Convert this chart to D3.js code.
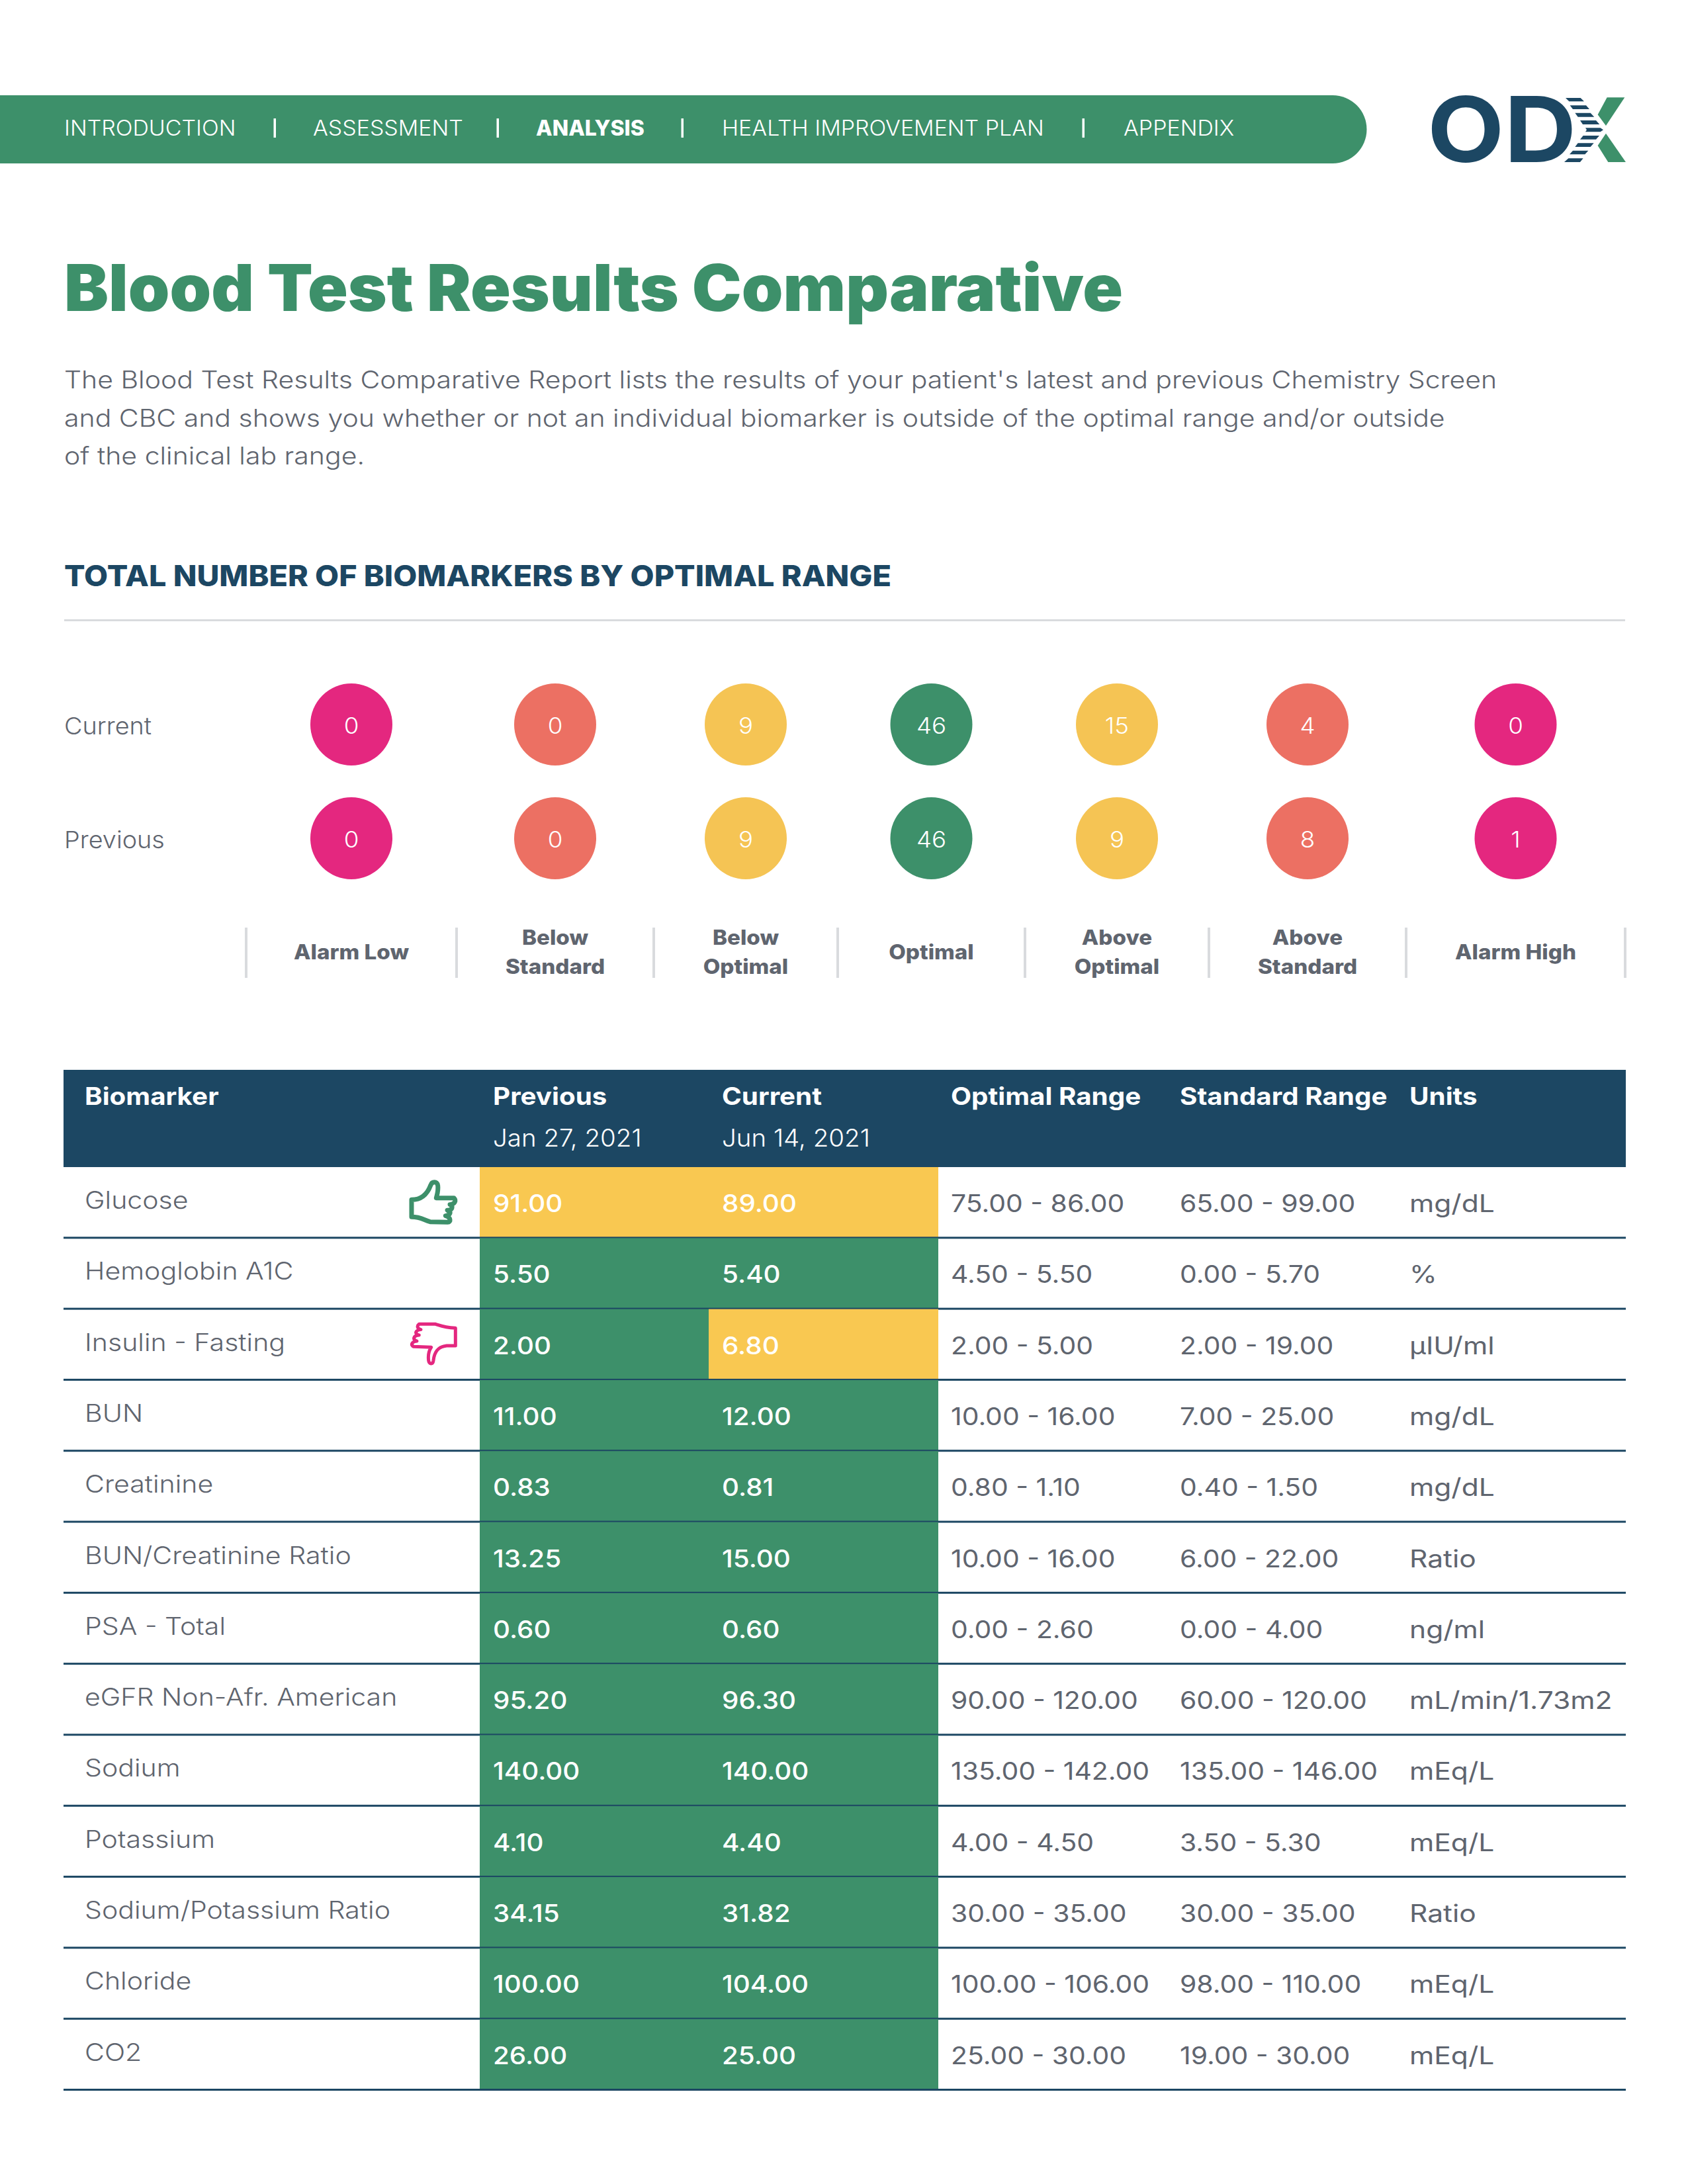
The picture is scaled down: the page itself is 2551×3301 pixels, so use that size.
<!DOCTYPE html>
<html>
<head>
<meta charset="utf-8">
<script src="https://cdn.jsdelivr.net/npm/d3@7"></script>
<style>
  html, body { margin: 0; padding: 0; background: #fff; }
  svg { display: block; }
  text { font-family: Inter, "Open Sans", sans-serif; }
</style>
</head>
<body>
<div id="chart"></div>
<script>
const navItems = ["INTRODUCTION", "ASSESSMENT", "ANALYSIS", "HEALTH IMPROVEMENT PLAN", "APPENDIX"];
const activeNav = "ANALYSIS";
const pageTitle = "Blood Test Results Comparative";
const introLines = [
  "The Blood Test Results Comparative Report lists the results of your patient's latest and previous Chemistry Screen",
  "and CBC and shows you whether or not an individual biomarker is outside of the optimal range and/or outside",
  "of the clinical lab range."
];
const sectionTitle = "TOTAL NUMBER OF BIOMARKERS BY OPTIMAL RANGE";

const rangeCategories = ["Alarm Low", "Below Standard", "Below Optimal", "Optimal", "Above Optimal", "Above Standard", "Alarm High"];
const currentCounts = [0, 0, 9, 46, 15, 4, 0];
const previousCounts = [0, 0, 9, 46, 9, 8, 1];

const tableHeaders = ["Biomarker", "Previous", "Current", "Optimal Range", "Standard Range", "Units"];
const tableDates = ["", "Jan 27, 2021", "Jun 14, 2021", "", "", ""];
const biomarkers = ["Glucose", "Hemoglobin A1C", "Insulin - Fasting", "BUN", "Creatinine", "BUN/Creatinine Ratio", "PSA - Total", "eGFR Non-Afr. American", "Sodium", "Potassium", "Sodium/Potassium Ratio", "Chloride", "CO2"];
const previousValues = [91, 5.5, 2, 11, 0.83, 13.25, 0.6, 95.2, 140, 4.1, 34.15, 100, 26];
const currentValues = [89, 5.4, 6.8, 12, 0.81, 15, 0.6, 96.3, 140, 4.4, 31.82, 104, 25];
const optimalLow = [75, 4.5, 2, 10, 0.8, 10, 0, 90, 135, 4, 30, 100, 25];
const optimalHigh = [86, 5.5, 5, 16, 1.1, 16, 2.6, 120, 142, 4.5, 35, 106, 30];
const standardLow = [65, 0, 2, 7, 0.4, 6, 0, 60, 135, 3.5, 30, 98, 19];
const standardHigh = [99, 5.7, 19, 25, 1.5, 22, 4, 120, 146, 5.3, 35, 110, 30];
const units = ["mg/dL", "%", "\u00b5IU/ml", "mg/dL", "mg/dL", "Ratio", "ng/ml", "mL/min/1.73m2", "mEq/L", "mEq/L", "Ratio", "mEq/L", "mEq/L"];
const thumbs = { "Glucose": "up", "Insulin - Fasting": "down" };

const GREEN = "#3d906a", NAVY = "#1c4763", YELLOW = "#f9c851", GREY = "#5f656f", RULE = "#d9dbde";

const width = 2551, height = 3301;
const svg = d3.select("#chart").append("svg").attr("width", width).attr("height", height);
const fmt = d3.format(".2f");

// no Gotham here, so Inter gets widened to the same text widths
const stretch = (sel, k) => sel.each(function () {
  this.setAttribute("textLength", this.getComputedTextLength() * k);
  this.setAttribute("lengthAdjust", "spacingAndGlyphs");
});

const addText = (g, x, y, str, size, weight, fill, k = 1, anchor = "start") =>
  g.append("text")
    .attr("x", x).attr("y", y)
    .attr("font-size", size).attr("font-weight", weight)
    .attr("fill", fill).attr("text-anchor", anchor)
    .text(str)
    .call(stretch, k);

// nav bar
const nav = svg.append("g");
nav.append("path")
  .attr("d", "M0,144H2014A51.5,51.5 0 0 1 2014,247H0Z")
  .attr("fill", GREEN);
const navStarts = [97, 473, 810, 1091, 1698];
const navSeps = [415, 752, 1031, 1637];
navItems.forEach(d => {
  const i = navItems.indexOf(d);
  addText(nav, navStarts[i], 205, d, 32, d === activeNav ? 800 : 300, "#fff", d === activeNav ? 1 : 1.06);
});
nav.selectAll("rect.sep").data(navSeps).enter().append("rect")
  .attr("x", d => d - 1.5).attr("y", 179).attr("width", 3.5).attr("height", 29).attr("fill", "#fff");

// logo
const logo = svg.append("g").attr("transform", "translate(2102,120) scale(0.3333)");
addText(logo, 165, 375, "OD", 412, 700, NAVY, 1.1);
const stripes = [
  [[792, 84], [860, 84], [876, 100], [808, 100]],
  [[812, 118], [885, 118], [900, 135], [825, 135]],
  [[835, 152], [905, 152], [922, 170], [848, 170]],
  [[858, 186], [930, 186], [946, 204], [870, 204]],
  [[882, 220], [950, 220], [963, 229], [950, 238], [882, 238], [888, 229]],
  [[872, 255], [945, 255], [930, 272], [858, 272]],
  [[848, 289], [920, 289], [905, 306], [835, 306]],
  [[825, 323], [895, 323], [880, 340], [810, 340]],
  [[805, 358], [872, 358], [858, 375], [786, 375]]
];
logo.selectAll("polygon.stripe").data(stripes).enter().append("polygon")
  .attr("points", d => d.join(" ")).attr("fill", NAVY);
logo.selectAll("polygon.arm").data([
  [[980, 82], [1060, 82], [975, 210], [938, 160]],
  [[975, 245], [1065, 375], [985, 375], [938, 300]]
]).enter().append("polygon").attr("points", d => d.join(" ")).attr("fill", GREEN);

// title + intro
addText(svg, 97, 470, pageTitle, 97, 900, GREEN)
  .attr("textLength", 1600);
const introBase = d3.scalePoint().domain(introLines).range([587, 702]);
introLines.forEach(d => addText(svg, 97, introBase(d), d, 37, 300, GREY, 1.108));
addText(svg, 97, 886, sectionTitle, 44, 800, NAVY).attr("textLength", 1250);
svg.append("rect").attr("x", 97).attr("y", 936).attr("width", 2359).attr("height", 3).attr("fill", RULE);

// summary circles, bands between the divider ticks
const dividers = [372, 690, 988, 1266, 1549, 1827, 2125, 2456];
const bandCenter = d3.scaleOrdinal().domain(rangeCategories)
  .range(d3.pairs(dividers).map(([a, b]) => (a + b) / 2));
const bandColor = d3.scaleOrdinal().domain(rangeCategories)
  .range(["#e4277f", "#ec7063", "#f5c454", GREEN, "#f5c454", "#ec7063", "#e4277f"]);
const summaryRow = d3.scalePoint().domain(["Current", "Previous"]).range([1095, 1267]);

[["Current", currentCounts], ["Previous", previousCounts]].forEach(([name, counts]) => {
  const y = summaryRow(name);
  addText(svg, 97, y + 15, name, 36, 300, GREY, 1.05);
  const g = svg.append("g");
  g.selectAll("circle").data(counts).enter().append("circle")
    .attr("cx", (d, i) => bandCenter(rangeCategories[i])).attr("cy", y).attr("r", 62)
    .attr("fill", (d, i) => bandColor(rangeCategories[i]));
  g.selectAll("text").data(counts).enter().append("text")
    .attr("x", (d, i) => bandCenter(rangeCategories[i])).attr("y", y + 14)
    .attr("text-anchor", "middle").attr("font-size", 34).attr("font-weight", 300)
    .attr("fill", "#fff").text(d => d)
    .call(stretch, 1.08);
});

svg.append("g").selectAll("rect").data(dividers).enter().append("rect")
  .attr("x", d => d - 2).attr("y", 1402).attr("width", 4).attr("height", 76).attr("fill", RULE);
rangeCategories.forEach(c => {
  const words = c === "Optimal" || c.startsWith("Alarm") ? [c] : c.split(" ");
  const baselines = words.length === 1 ? [1450] : [1428, 1472];
  words.forEach((w, i) => addText(svg, bandCenter(c), baselines[i], w, 31, 800, GREY, 1.07, "middle"));
});

// table
const rowY = d3.scaleBand().domain(biomarkers).range([1764, 3159]);
const colX = d3.scaleOrdinal().domain(tableHeaders).range([128, 745, 1091, 1437, 1783, 2130]);
const status = (v, i) => (v >= optimalLow[i] && v <= optimalHigh[i]) ? GREEN : YELLOW;

svg.append("rect").attr("x", 96).attr("y", 1617).attr("width", 2361).attr("height", 147).attr("fill", NAVY);
tableHeaders.forEach((h, i) => {
  addText(svg, colX(h), 1670, h, 37, 700, "#fff", 1.09);
  if (tableDates[i]) addText(svg, colX(h), 1733, tableDates[i], 37, 300, "#fff", 1.04);
});

const rows = svg.append("g").selectAll("g").data(biomarkers).enter().append("g")
  .attr("transform", d => `translate(0,${rowY(d)})`);
const bw = rowY.bandwidth();

rows.append("rect").attr("x", colX("Previous") - 20).attr("width", colX("Current") - colX("Previous"))
  .attr("height", bw).attr("fill", (d, i) => status(previousValues[i], i));
rows.append("rect").attr("x", colX("Current") - 20).attr("width", colX("Current") - colX("Previous") + 1)
  .attr("height", bw).attr("fill", (d, i) => status(currentValues[i], i));
rows.append("rect").attr("x", 96).attr("y", bw - 2).attr("width", 2361).attr("height", 3).attr("fill", NAVY);

rows.append("text").attr("x", colX("Biomarker")).attr("y", 63).attr("font-size", 37).attr("font-weight", 300)
  .attr("fill", GREY).text(d => d)
  .call(stretch, 1.11);

const cellText = (col, get, weight, fill, k) =>
  rows.append("text").attr("x", colX(col)).attr("y", 68).attr("font-size", 37).attr("font-weight", weight)
    .attr("fill", fill).text((d, i) => get(i))
    .call(stretch, k);
cellText("Previous", i => fmt(previousValues[i]), 500, "#fff", 1.09);
cellText("Current", i => fmt(currentValues[i]), 500, "#fff", 1.09);
cellText("Optimal Range", i => `${fmt(optimalLow[i])} - ${fmt(optimalHigh[i])}`, 400, GREY, 1.105);
cellText("Standard Range", i => `${fmt(standardLow[i])} - ${fmt(standardHigh[i])}`, 400, GREY, 1.105);
cellText("Units", i => units[i], 400, GREY, 1.15);

// thumb icons
const thumbPaths = {
  up: "M66,130 C105,130 135,110 152,65 C158,45 182,45 185,65 C188,90 182,105 178,122 L258,122 C270,135 262,150 240,152 C258,160 250,178 228,178 C250,185 240,200 220,203 C245,210 245,232 230,232 L150,230 C120,222 110,208 66,208 Z",
  down: "M100,50 L175,50 C200,58 215,65 265,68 L265,148 L225,148 C190,152 170,170 165,215 C162,235 145,232 143,215 C140,190 145,170 155,155 L75,152 C62,145 65,130 90,127 C70,122 72,102 100,100 C78,95 82,78 108,75 C90,70 90,58 100,50 Z"
};
rows.filter(d => thumbs[d]).append("path")
  .attr("transform", "translate(600,6) scale(0.3333)")
  .attr("d", d => thumbPaths[thumbs[d]])
  .attr("fill", "none")
  .attr("stroke", d => thumbs[d] === "up" ? GREEN : "#e4277f")
  .attr("stroke-width", d => thumbs[d] === "up" ? 21 : 15)
  .attr("stroke-linejoin", "round");
</script>
</body>
</html>
